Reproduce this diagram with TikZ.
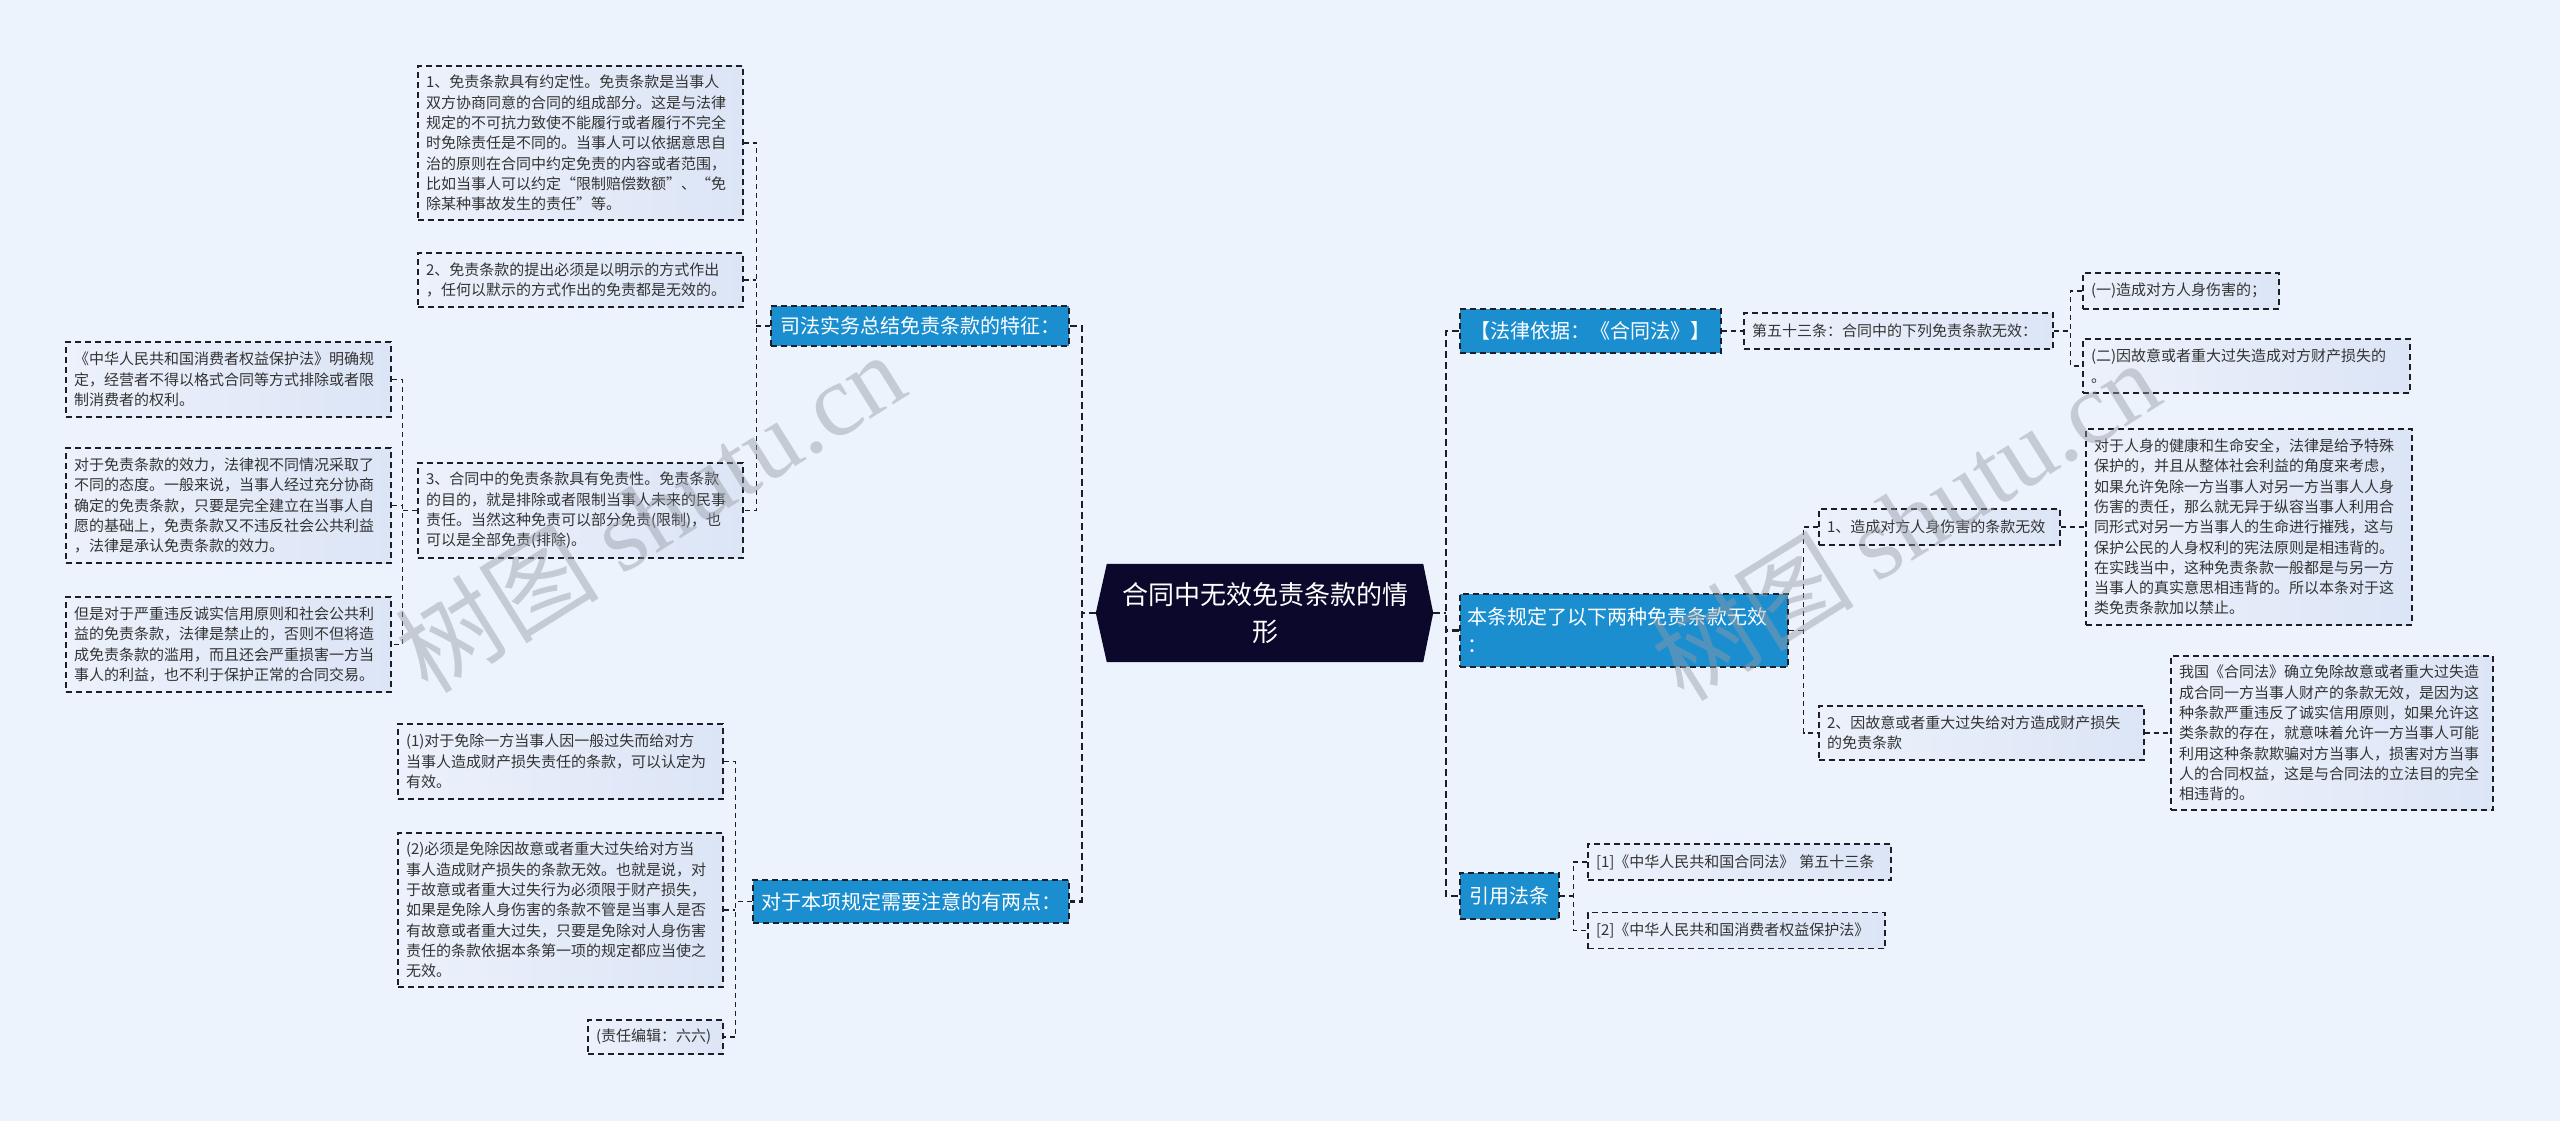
\documentclass[tikz,border=0pt]{standalone}
\usepackage{fontspec}
\setmainfont{Noto Sans CJK SC}
\newfontfamily\wmfont{Liberation Serif}
\usetikzlibrary{backgrounds,calc}
\definecolor{bgc}{RGB}{237,243,252}
\definecolor{boxl}{RGB}{236,241,251}
\definecolor{boxr}{RGB}{220,229,246}
\definecolor{bluec}{RGB}{27,142,208}
\definecolor{navy}{RGB}{12,8,44}
\definecolor{txt}{RGB}{51,51,51}
\definecolor{edgec}{RGB}{30,30,38}
\definecolor{wmc}{RGB}{150,155,165}
\begin{document}
\begin{tikzpicture}[x=1pt,y=-1pt,
  tbox/.style={draw=edgec, line width=1.3pt, dash pattern=on 6pt off 4pt, left color=boxl, right color=boxr, text=txt, font=\fontsize{15}{20.3}\selectfont, align=left, inner xsep=8pt, inner ysep=0pt},
  bbox/.style={draw=edgec, line width=1.3pt, dash pattern=on 6pt off 4pt, fill=bluec, text=white, font=\fontsize{20}{28}\selectfont, align=center, inner xsep=7pt, inner ysep=0pt},
  rootnode/.style={text=white, font=\fontsize{26}{37}\selectfont, align=center, inner sep=0pt},
  trunk/.style={draw=edgec, line width=2.5pt, dash pattern=on 7pt off 4pt},
  link/.style={draw=edgec, line width=1.4pt, dash pattern=on 5pt off 4pt},
  wm/.style={text=wmc, text opacity=0.45, font=\fontsize{102}{102}\selectfont, rotate=32, inner sep=0pt}
]
\useasboundingbox (0,0) rectangle (2560,1121);

% root
\node[rootnode, minimum width=316pt, minimum height=98pt] (root) at (1265,613) {合同中无效免责条款的情\\形};
\coordinate (rootL) at ($(root.west)+(-11,0)$);
\coordinate (rootR) at ($(root.east)+(10,0)$);

% left parents
\node[bbox, minimum width=298pt, minimum height=40pt] (L1) at (920,326) {司法实务总结免责条款的特征：};
\node[bbox, minimum width=316pt, minimum height=43pt] (L2) at (911,901.5) {对于本项规定需要注意的有两点：};

% A group
\node[tbox, minimum width=325pt, text width=309pt, minimum height=154pt] (A1) at (580.5,143) {1、免责条款具有约定性。免责条款是当事人\\双方协商同意的合同的组成部分。这是与法律\\规定的不可抗力致使不能履行或者履行不完全\\时免除责任是不同的。当事人可以依据意思自\\治的原则在合同中约定免责的内容或者范围，\\比如当事人可以约定“限制赔偿数额”、“免\\除某种事故发生的责任”等。};
\node[tbox, minimum width=325pt, text width=309pt, minimum height=54pt] (A2) at (580.5,280) {2、免责条款的提出必须是以明示的方式作出\\，任何以默示的方式作出的免责都是无效的。};
\node[tbox, minimum width=325pt, text width=309pt, minimum height=95pt] (A3) at (580.5,510.5) {3、合同中的免责条款具有免责性。免责条款\\的目的，就是排除或者限制当事人未来的民事\\责任。当然这种免责可以部分免责(限制)，也\\可以是全部免责(排除)。};

% B group
\node[tbox, minimum width=325pt, text width=309pt, minimum height=75pt] (B1) at (228.5,379.5) {《中华人民共和国消费者权益保护法》明确规\\定，经营者不得以格式合同等方式排除或者限\\制消费者的权利。};
\node[tbox, minimum width=325pt, text width=309pt, minimum height=115pt] (B2) at (228.5,505.5) {对于免责条款的效力，法律视不同情况采取了\\不同的态度。一般来说，当事人经过充分协商\\确定的免责条款，只要是完全建立在当事人自\\愿的基础上，免责条款又不违反社会公共利益\\，法律是承认免责条款的效力。};
\node[tbox, minimum width=325pt, text width=309pt, minimum height=95pt] (B3) at (228.5,644.5) {但是对于严重违反诚实信用原则和社会公共利\\益的免责条款，法律是禁止的，否则不但将造\\成免责条款的滥用，而且还会严重损害一方当\\事人的利益，也不利于保护正常的合同交易。};

% C group
\node[tbox, minimum width=325pt, text width=309pt, minimum height=75pt] (C1) at (560.5,761.5) {(1)对于免除一方当事人因一般过失而给对方\\当事人造成财产损失责任的条款，可以认定为\\有效。};
\node[tbox, minimum width=325pt, text width=309pt, minimum height=154pt] (C2) at (560.5,910) {(2)必须是免除因故意或者重大过失给对方当\\事人造成财产损失的条款无效。也就是说，对\\于故意或者重大过失行为必须限于财产损失，\\如果是免除人身伤害的条款不管是当事人是否\\有故意或者重大过失，只要是免除对人身伤害\\责任的条款依据本条第一项的规定都应当使之\\无效。};
\node[tbox, minimum width=135pt, text width=119pt, minimum height=34pt] (C3) at (655.5,1037) {(责任编辑：六六)};

% right parents
\node[bbox, minimum width=261pt, minimum height=44pt] (R1) at (1590.5,331) {【法律依据：《合同法》】};
\node[bbox, minimum width=328pt, minimum height=73pt, text width=314pt, align=left] (R2) at (1624,630.5) {本条规定了以下两种免责条款无效\\：};
\node[bbox, minimum width=99pt, minimum height=46pt] (R3) at (1509.5,896) {引用法条};

% S/T
\node[tbox, minimum width=309pt, text width=293pt, minimum height=36pt] (S1) at (1898.5,331) {第五十三条：合同中的下列免责条款无效：};
\node[tbox, minimum width=196pt, text width=180pt, minimum height=36pt] (T1) at (2181,291) {(一)造成对方人身伤害的；};
\node[tbox, minimum width=327pt, text width=311pt, minimum height=54pt] (T2) at (2246.5,366) {(二)因故意或者重大过失造成对方财产损失的\\。};

% U/V
\node[tbox, minimum width=241pt, text width=225pt, minimum height=36pt] (U1) at (1939.5,527) {1、造成对方人身伤害的条款无效};
\node[tbox, minimum width=325pt, text width=309pt, minimum height=54pt] (U2) at (1981.5,733) {2、因故意或者重大过失给对方造成财产损失\\的免责条款};
\node[tbox, minimum width=326pt, text width=310pt, minimum height=196pt] (V1) at (2249,527) {对于人身的健康和生命安全，法律是给予特殊\\保护的，并且从整体社会利益的角度来考虑，\\如果允许免除一方当事人对另一方当事人人身\\伤害的责任，那么就无异于纵容当事人利用合\\同形式对另一方当事人的生命进行摧残，这与\\保护公民的人身权利的宪法原则是相违背的。\\在实践当中，这种免责条款一般都是与另一方\\当事人的真实意思相违背的。所以本条对于这\\类免责条款加以禁止。};
\node[tbox, minimum width=322pt, text width=306pt, minimum height=154pt] (V2) at (2332,733) {我国《合同法》确立免除故意或者重大过失造\\成合同一方当事人财产的条款无效，是因为这\\种条款严重违反了诚实信用原则，如果允许这\\类条款的存在，就意味着允许一方当事人可能\\利用这种条款欺骗对方当事人，损害对方当事\\人的合同权益，这是与合同法的立法目的完全\\相违背的。};

% W
\node[tbox, minimum width=303pt, text width=287pt, minimum height=36pt] (W1) at (1739.5,862) {[1]《中华人民共和国合同法》 第五十三条};
\node[tbox, minimum width=297pt, text width=281pt, minimum height=36pt] (W2) at (1736.5,930.5) {[2]《中华人民共和国消费者权益保护法》};

% background and hexagon
\begin{scope}[on background layer]
\fill[bgc] (0,0) rectangle (2560,1121);
\fill[navy] (rootL) -- (root.north west) -- (root.north east) -- (rootR) -- (root.south east) -- (root.south west) -- cycle;
\end{scope}

% left trunk
\coordinate (lbar) at ($(rootL)+(-14,0)$);
\draw[trunk] (rootL) -- (lbar);
\draw[trunk] (L1.east) -| (lbar) |- (L2.east);

% A group
\coordinate (abar) at ($(L1.west)+(-14,0)$);
\draw[link] (L1.west) -- (abar);
\draw[link] (A1.east) -| (abar) |- (A3.east);
\draw[link] (A2.east) -- (A2.east -| abar);

% B group
\coordinate (bbar) at ($(A3.west)+(-15,0)$);
\draw[link] (A3.west) -- (bbar);
\draw[link] (B1.east) -| (bbar) |- (B3.east);
\draw[link] (B2.east) -- (B2.east -| bbar);

% C group
\coordinate (cbar) at ($(L2.west)+(-17,0)$);
\draw[link] (L2.west) -- (cbar);
\draw[link] (C1.east) -| (cbar) |- (C3.east);
\draw[link] (C2.east) -- (C2.east -| cbar);

% right trunk
\coordinate (rbar) at ($(rootR)+(13,0)$);
\draw[trunk] (rootR) -- (rbar);
\draw[trunk] (R1.west) -| (rbar) |- (R3.west);
\draw[trunk] (R2.west) -- (R2.west -| rbar);

% R1 -> S1 -> T
\draw[link] (R1.east) -- (S1.west);
\coordinate (sbar) at ($(S1.east)+(17,0)$);
\draw[link] (S1.east) -- (sbar);
\draw[link] (T1.west) -| (sbar) |- (T2.west);

% R2 -> U -> V
\coordinate (ubar) at ($(R2.east)+(15,0)$);
\draw[link] (R2.east) -- (ubar);
\draw[link] (U1.west) -| (ubar) |- (U2.west);
\draw[link] (U1.east) -- (V1.west);
\draw[link] (U2.east) -- (V2.west);

% R3 -> W
\coordinate (wbar) at ($(R3.east)+(14,0)$);
\draw[link] (R3.east) -- (wbar);
\draw[link] (W1.west) -| (wbar) |- (W2.west);

% watermarks
\node[wm] (wm1) at (650,512) {树图 {\wmfont shutu.cn}};
\node[wm] (wm2) at (1905,520) {树图 {\wmfont shutu.cn}};
\end{tikzpicture}
\end{document}
